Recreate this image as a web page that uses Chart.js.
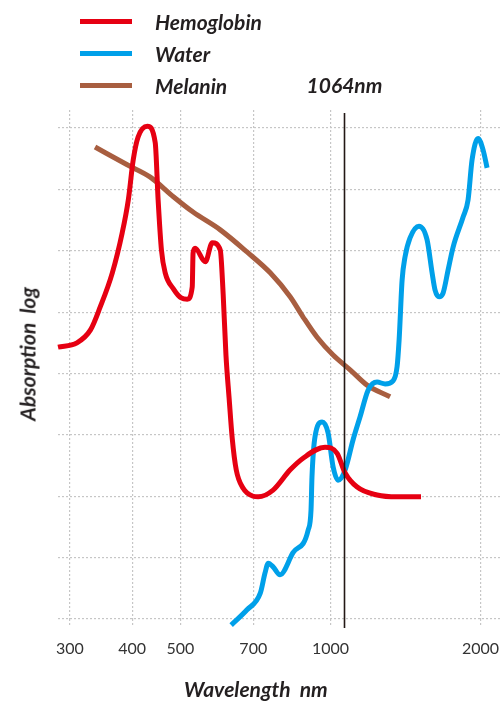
<!DOCTYPE html>
<html>
<head>
<meta charset="utf-8">
<title>Absorption spectra</title>
<script src="https://cdn.jsdelivr.net/npm/chart.js@4.4.1/dist/chart.umd.min.js"></script>
<style>
  html, body { margin: 0; padding: 0; background: #fff; }
  #wrap { position: relative; width: 502px; height: 701px; overflow: hidden; }
  #chart { position: absolute; left: 0; top: 0; }
  .txt { position: absolute; font-family: Lato, "Open Sans", sans-serif; font-weight: 700; font-style: italic;
         color: #231f20; white-space: pre; line-height: 1; }
  #legend { position: absolute; left: 80px; top: 5px; margin: 0; padding: 0; list-style: none; }
  #legend li { display: flex; align-items: center; height: 32px; }
  #legend .swatch { width: 52px; height: 5px; margin-right: 23px; }
  #legend .name { font-family: Lato, "Open Sans", sans-serif; font-weight: 700; font-style: italic;
                  font-size: 21px; color: #231f20; }
  #markLabel { font-size: 21px; top: 74px; transform: translateX(-50%); }
  #xTitle { font-size: 21px; left: 184px; top: 678px; }
  #yTitle { font-size: 21px; left: 27px; top: 354px; transform: translate(-50%, -50%) rotate(-90deg); }
</style>
</head>
<body>
<div id="wrap">
  <canvas id="chart" width="502" height="701"></canvas>
  <ul id="legend"></ul>
  <div class="txt" id="markLabel">1064nm</div>
  <div class="txt" id="xTitle">Wavelength  nm</div>
  <div class="txt" id="yTitle">Absorption  log</div>
</div>
<script>
// Wavelength ticks on the logarithmic x axis (nm)
const wavelengthTicks = [300, 400, 500, 700, 1000, 2000];
// Relative absorption levels (log units) marked by horizontal grid lines
const absorptionTicks = [0, 1, 2, 3, 4, 5, 6, 7, 8];
// Laser line of interest (nm)
const laserLine = 1064;

// Hemoglobin absorption curve
const hemoglobinNm = [284, 310, 330, 345, 365, 382, 393, 402, 411, 429, 445, 451, 458, 466, 484, 502, 516, 528, 530, 535, 561, 579, 601, 609, 617, 626, 635, 647, 668, 700, 716, 767, 830, 881, 975, 1031, 1070, 1131, 1240, 1360, 1519];
const hemoglobinAbs = [4.43, 4.50, 4.71, 5.08, 5.64, 6.29, 6.83, 7.48, 7.85, 8.03, 7.76, 6.83, 6.01, 5.64, 5.38, 5.23, 5.21, 5.41, 5.96, 6.04, 5.82, 6.13, 6.01, 5.30, 4.30, 3.60, 2.95, 2.43, 2.13, 2.00, 1.99, 2.10, 2.43, 2.62, 2.80, 2.70, 2.38, 2.15, 2.02, 1.99, 1.99];

// Water absorption curve
const waterNm = [632, 680, 723, 739, 750, 767, 792, 841, 902, 914, 918, 931, 962, 989, 1012, 1036, 1070, 1110, 1146, 1190, 1240, 1287, 1335, 1360, 1373, 1392, 1411, 1444, 1505, 1562, 1599, 1621, 1651, 1682, 1721, 1762, 1845, 1888, 1923, 1977, 2024, 2061];
const waterAbs = [-0.10, 0.15, 0.42, 0.75, 0.91, 0.85, 0.72, 1.08, 1.45, 1.78, 2.31, 2.97, 3.21, 3.03, 2.48, 2.26, 2.43, 2.92, 3.29, 3.73, 3.86, 3.83, 3.88, 4.11, 4.55, 5.52, 5.90, 6.21, 6.40, 6.18, 5.64, 5.36, 5.25, 5.31, 5.68, 6.06, 6.55, 6.83, 7.48, 7.83, 7.64, 7.35];

// Melanin absorption curve
const melaninNm = [337, 391, 435, 484, 530, 601, 680, 757, 830, 881, 940, 1012, 1095, 1184, 1317];
const melaninAbs = [7.69, 7.40, 7.20, 6.88, 6.63, 6.34, 5.98, 5.64, 5.25, 4.92, 4.59, 4.30, 4.06, 3.81, 3.62];

const series = [
  { label: 'Hemoglobin', nm: hemoglobinNm, abs: hemoglobinAbs, color: '#e60012' },
  { label: 'Water',      nm: waterNm,      abs: waterAbs,      color: '#00a0e9' },
  { label: 'Melanin',    nm: melaninNm,    abs: melaninAbs,    color: '#a85e40' }
];

const toPoints = (xs, ys) => xs.map((x, i) => ({ x: x, y: ys[i] }));

// Vertical reference line at the laser wavelength, drawn above the curves
const laserLinePlugin = {
  id: 'laserLine',
  afterDatasetsDraw(chart) {
    const { ctx, chartArea, scales } = chart;
    const x = Math.round(scales.x.getPixelForValue(laserLine)) + 0.5;
    ctx.save();
    ctx.strokeStyle = '#231815';
    ctx.lineWidth = 1.6;
    ctx.beginPath();
    ctx.moveTo(x, chartArea.top + 3);
    ctx.lineTo(x, chartArea.bottom + 9);
    ctx.stroke();
    ctx.restore();
    document.getElementById('markLabel').style.left = x + 'px';
  }
};

const gridColor = '#c6c6c6';

const chart = new Chart(document.getElementById('chart'), {
  type: 'line',
  data: {
    datasets: series.map(s => ({
      label: s.label,
      data: toPoints(s.nm, s.abs),
      borderColor: s.color,
      backgroundColor: s.color,
      borderWidth: 5,
      pointRadius: 0,
      fill: false,
      cubicInterpolationMode: 'monotone',
      borderCapStyle: 'butt',
      clip: 10
    }))
  },
  options: {
    responsive: false,
    animation: false,
    devicePixelRatio: 1,
    layout: { padding: { top: 110, right: 2, left: 0, bottom: 0 } },
    plugins: { legend: { display: false }, tooltip: { enabled: false } },
    scales: {
      x: {
        type: 'logarithmic',
        min: 284,
        max: 2188,
        afterBuildTicks: scale => { scale.ticks = wavelengthTicks.map(v => ({ value: v })); },
        afterFit: scale => {
          scale.height = 82;
          // tick labels sit well inside the plot, no extra side padding needed
          scale.paddingLeft = 0;
          scale.paddingRight = 0;
        },
        ticks: {
          autoSkip: false,
          maxRotation: 0,
          padding: 13,
          color: '#333333',
          font: { family: 'Lato', size: 16 },
          callback: v => String(v)
        },
        grid: { color: gridColor, lineWidth: 1.2, tickLength: 7, tickColor: gridColor, tickBorderDash: [2, 2] },
        border: { display: false, dash: [2, 2] }
      },
      y: {
        type: 'linear',
        min: 0,
        max: 8.293,
        afterBuildTicks: scale => { scale.ticks = absorptionTicks.map(v => ({ value: v })); },
        afterFit: scale => { scale.width = 58; },
        ticks: { display: false },
        grid: { color: gridColor, lineWidth: 1.2, drawTicks: false },
        border: { display: false, dash: [2, 2] }
      }
    }
  },
  plugins: [laserLinePlugin]
});

// Legend built from the chart's datasets
const legend = document.getElementById('legend');
chart.data.datasets.forEach(ds => {
  const li = document.createElement('li');
  const sw = document.createElement('span');
  sw.className = 'swatch';
  sw.style.background = ds.borderColor;
  const name = document.createElement('span');
  name.className = 'name';
  name.textContent = ds.label;
  li.appendChild(sw);
  li.appendChild(name);
  legend.appendChild(li);
});
</script>
</body>
</html>
